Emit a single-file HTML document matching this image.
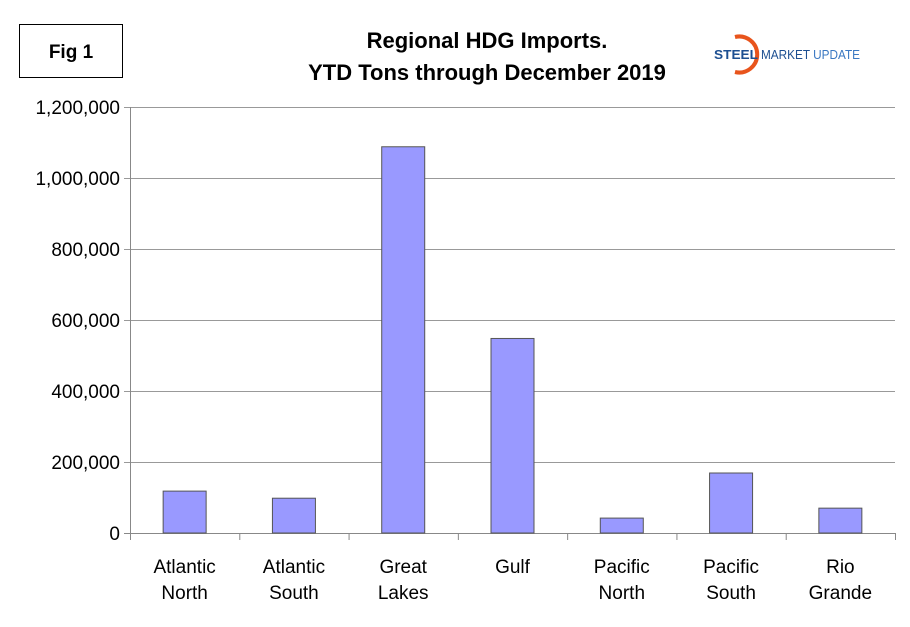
<!DOCTYPE html>
<html><head><meta charset="utf-8"><style>
body{margin:0;background:#fff;font-family:"Liberation Sans",Arial,sans-serif}
svg text{font-family:"Liberation Sans",Arial,sans-serif}
</style></head><body>
<svg id="c" width="910" height="622" xmlns="http://www.w3.org/2000/svg">
<rect x="19.5" y="24.5" width="103" height="53" fill="#fff" stroke="#000"/>
<text x="71" y="58" text-anchor="middle" font-size="19" font-weight="bold">Fig 1</text>
<text x="487" y="48" text-anchor="middle" font-size="22" font-weight="bold">Regional HDG Imports.</text>
<text x="487" y="80" text-anchor="middle" font-size="22" font-weight="bold">YTD Tons through December 2019</text>
<g>
<path d="M735 37 A18 18 0 1 1 735 72" fill="none" stroke="#e8541c" stroke-width="4"/>
<text x="714" y="59" font-size="13" font-weight="bold" fill="#1d4f91" textLength="44" lengthAdjust="spacingAndGlyphs">STEEL</text>
<text x="761" y="59" font-size="13" fill="#1d4f91" textLength="99" lengthAdjust="spacingAndGlyphs">MARKET <tspan fill="#3a78c2">UPDATE</tspan></text>
</g>
<g id="grid"></g><g id="bars"></g><g id="axes"></g>
</svg>
<script>
const categories=[["Atlantic","North"],["Atlantic","South"],["Great","Lakes"],["Gulf"],["Pacific","North"],["Pacific","South"],["Rio","Grande"]];
const values=[118000,98000,1088000,548000,42000,169000,70000];
const ticks=[0,200000,400000,600000,800000,1000000,1200000];
const X0=130,X1=895,Y0=533,Y1=107,MAX=1200000;
const ns="http://www.w3.org/2000/svg";
const y=v=>Y0-(v/MAX)*(Y0-Y1);
const bw=(X1-X0)/categories.length;
const x=i=>X0+i*bw;
function mk(t,a,p){const e=document.createElementNS(ns,t);for(const k in a)e.setAttribute(k,a[k]);p.appendChild(e);return e;}
const G=document.getElementById('grid'),B=document.getElementById('bars'),A=document.getElementById('axes');
ticks.forEach(t=>{
 const l=mk('line',{x1:X0-6,x2:X1,y1:y(t)+.5,y2:y(t)+.5,stroke:t===0?'#888':'#999'},G);
 
 
 const tx=mk('text',{x:X0-10,y:y(t)+7,'text-anchor':'end','font-size':19},A);
 tx.textContent=t.toLocaleString('en-US');
 
 
});
const ax=mk('line',{x1:X0+.5,x2:X0+.5,y1:Y1,y2:Y0+7,stroke:'#888'},A);


values.forEach((v,i)=>{
 const r=mk('rect',{x:x(i)+bw/2-21.5,y:y(v),width:43,height:Y0-y(v),fill:'#9999ff',stroke:'#555','stroke-width':1},B);
 
 
 const tk=mk('line',{x1:x(i+1)+.5,x2:x(i+1)+.5,y1:Y0,y2:Y0+7,stroke:'#888'},A);
 
 
 categories[i].forEach((s,j)=>{
  const t=mk('text',{x:x(i)+bw/2,y:573+j*26,'text-anchor':'middle','font-size':19},A);
  t.textContent=s;
  
  
 });
});
</script>
</body></html>
